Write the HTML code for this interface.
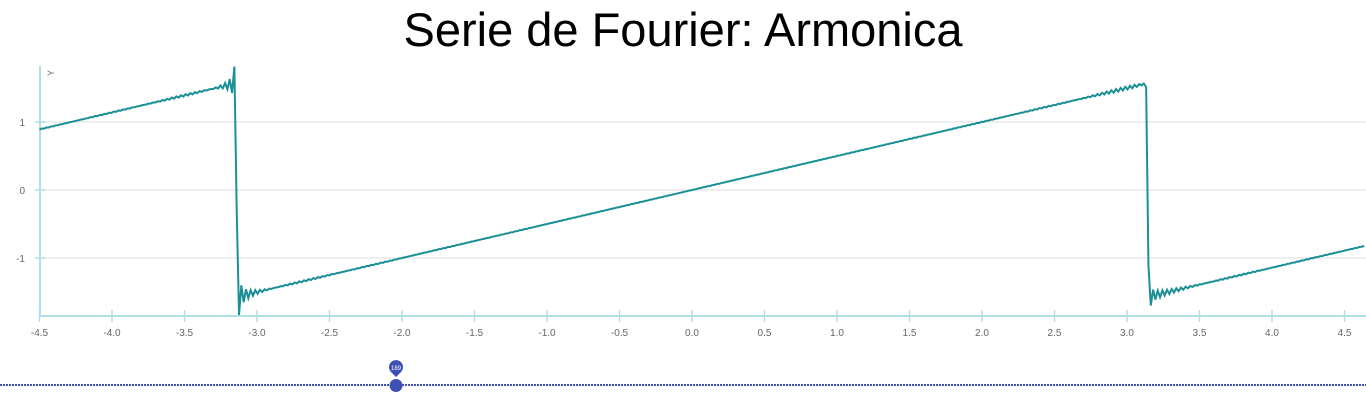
<!DOCTYPE html>
<html><head><meta charset="utf-8"><style>
body{margin:0;width:1366px;height:407px;background:#fff;overflow:hidden;font-family:"Liberation Sans",sans-serif}
</style></head><body>
<svg width="1366" height="407">
<text x="683" y="46" text-anchor="middle" font-size="47" fill="#000">Serie de Fourier: Armonica</text>
<g id="grid"></g>
<g id="axes"></g>
<path id="series" fill="none" stroke="#1a9096" stroke-width="2"/>
<g>
<line x1="0" y1="385" x2="1366" y2="385" stroke="#3f51b5" stroke-width="2" stroke-dasharray="2,1"/>
<circle cx="396" cy="385.5" r="6.5" fill="#3f51b5"/>
<path d="M396,377 L391,372 A7,7 0 1 1 401,372 Z" fill="#3f51b5"/>
<text x="396" y="370" text-anchor="middle" font-size="6" fill="#fff">189</text>
</g>
</svg>
<script>
const xTicks=[-4.5,-4.0,-3.5,-3.0,-2.5,-2.0,-1.5,-1.0,-0.5,0.0,0.5,1.0,1.5,2.0,2.5,3.0,3.5,4.0,4.5];
const yTicks=[-1,0,1];
const harmonics=[189];
const xDomain=[-4.5,4.65];
const sampleStep=[0.016];
const X=v=>692+v*145, Y=v=>190-v*68;
const ns="http://www.w3.org/2000/svg";
function mk(tag,attrs,parent,txt){const e=document.createElementNS(ns,tag);for(const k in attrs)e.setAttribute(k,attrs[k]);if(txt!==undefined)e.textContent=txt;parent.appendChild(e);return e;}
const grid=document.getElementById('grid'),axes=document.getElementById('axes');
yTicks.forEach(t=>{
 const l=mk('line',{x1:40,x2:1366,y1:Y(t),y2:Y(t),stroke:'#eeeeee','stroke-width':2},grid);
 
 
 const tk=mk('line',{x1:35,x2:45,y1:Y(t),y2:Y(t),stroke:'#b2dfe1','stroke-width':1.5},axes);
 
 
 const tx=mk('text',{x:25,y:Y(t)+4,'text-anchor':'end','font-size':10,fill:'#666'},axes,String(t));
 
 
});
const ya=mk('line',{x1:40,x2:40,y1:66,y2:317,stroke:'#b2dfe1','stroke-width':2},axes);


const xa=mk('line',{x1:39,x2:1366,y1:316,y2:316,stroke:'#b2dfe1','stroke-width':2},axes);


const yl=mk('text',{x:0,y:0,'font-size':9,fill:'#666',transform:'translate(54,73) rotate(-90)','text-anchor':'middle'},axes,'Y');


xTicks.forEach(t=>{
 const tk=mk('line',{x1:X(t),x2:X(t),y1:310,y2:322,stroke:'#b2dfe1','stroke-width':1.5},axes);
 
 
 const tx=mk('text',{x:X(t),y:336,'text-anchor':'middle','font-size':10,fill:'#666'},axes,t.toFixed(1));
 
 
});
const N=harmonics[0];let d='';
for(let x=xDomain[0];x<=xDomain[1]+1e-9;x+=sampleStep[0]){
 let s=0;for(let n=1;n<=N;n++)s+=((n%2)?1:-1)*Math.sin(n*x)/n;
 d+=(d?'L':'M')+X(x).toFixed(2)+','+Y(s).toFixed(2);
}
document.getElementById('series').setAttribute('d',d);
</script>
</body></html>
